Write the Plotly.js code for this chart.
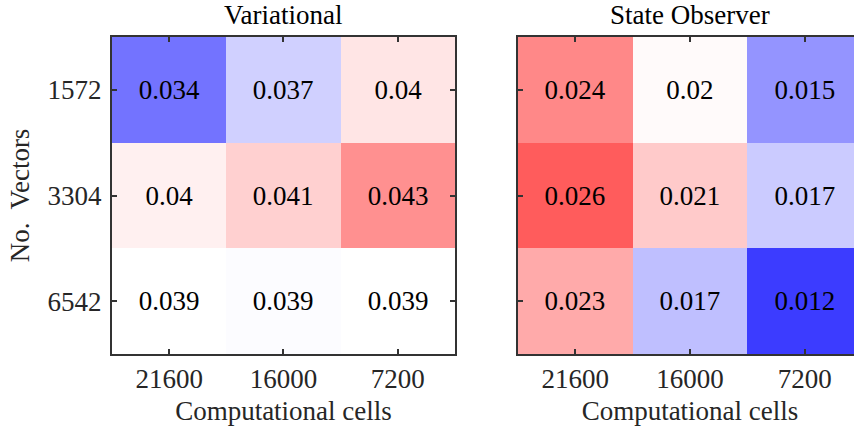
<!DOCTYPE html>
<html>
<head>
<meta charset="utf-8">
<script src="https://cdn.plot.ly/plotly-3.0.1.min.js"></script>
<style>
html,body{margin:0;padding:0;overflow:hidden;background:#fff;}
#chart{width:862px;height:432px;}
</style>
</head>
<body>
<div id="chart"></div>
<script>
// Categories / tick labels
const cells = ["21600", "16000", "7200"];        // Computational cells (x)
const vectors = ["1572", "3304", "6542"];        // No. Vectors (y), top to bottom

// Error values, rows = vectors, cols = cells
const variational = [
  [0.03416, 0.03744, 0.04002],
  [0.03963, 0.04076, 0.04302],
  [0.03910, 0.03900, 0.03910]
];
const stateObserver = [
  [0.02398, 0.01960, 0.01528],
  [0.02566, 0.02144, 0.01740],
  [0.02266, 0.01694, 0.01190]
];
const panelTitles = ["Variational", "State Observer"];
const xTitle = "Computational cells";
const yTitle = "No.  Vectors";

const FONT = "'Liberation Serif', 'Times New Roman', 'DejaVu Serif', serif";
const FS = 27;
const bwr = [[0, "rgb(0,0,255)"], [0.5, "rgb(255,255,255)"], [1, "rgb(255,0,0)"]];

function hm(z, xa, ya, zmin, zmax) {
  return {
    type: "heatmap", x: cells, y: vectors, z: z,
    xaxis: xa, yaxis: ya,
    colorscale: bwr, zmin: zmin, zmax: zmax, showscale: false,
    texttemplate: "%{z:.2~g}",
    textfont: {family: FONT, size: FS, color: "#000"},
    hoverinfo: "skip", xgap: 0, ygap: 0
  };
}

const traces = [
  hm(variational, "x", "y", 0.0301, 0.0481),
  hm(stateObserver, "x2", "y2", 0.0096, 0.0292)
];

const axBase = {
  type: "category", showline: true, mirror: "ticks", linecolor: "#333", linewidth: 2,
  ticks: "inside", ticklen: 5, tickwidth: 2, tickcolor: "#333",
  showgrid: false, zeroline: false, fixedrange: true,
  tickfont: {family: FONT, size: FS, color: "#262626"}
};

const layout = {
  width: 862, height: 432,
  margin: {l: 112, r: 0, t: 37, b: 78},
  paper_bgcolor: "#fff", plot_bgcolor: "#fff",
  font: {family: FONT, size: FS, color: "#262626"},
  showlegend: false,
  xaxis: Object.assign({}, axBase, {domain: [0, 0.4573], anchor: "y", ticklabelstandoff: 0,
    title: {text: xTitle, font: {family: FONT, size: FS, color: "#262626"}, standoff: 8}}),
  yaxis: Object.assign({}, axBase, {domain: [0, 1], anchor: "x", autorange: "reversed", ticklabelstandoff: 3,
    title: {text: yTitle, font: {family: FONT, size: FS, color: "#262626"}, standoff: 10}}),
  xaxis2: Object.assign({}, axBase, {domain: [0.5413, 1], anchor: "y2", ticklabelstandoff: 0,
    title: {text: xTitle, font: {family: FONT, size: FS, color: "#262626"}, standoff: 8}}),
  yaxis2: Object.assign({}, axBase, {domain: [0, 1], anchor: "x2", autorange: "reversed", showticklabels: false}),
  annotations: [
    {text: panelTitles[0], xref: "x domain", yref: "y domain", x: 0.5, y: 1, yshift: 5,
     xanchor: "center", yanchor: "bottom", showarrow: false,
     font: {family: FONT, size: FS, color: "#000"}},
    {text: panelTitles[1], xref: "x2 domain", yref: "y2 domain", x: 0.5, y: 1, yshift: 5,
     xanchor: "center", yanchor: "bottom", showarrow: false,
     font: {family: FONT, size: FS, color: "#000"}}
  ]
};

Plotly.newPlot("chart", traces, layout, {displayModeBar: false, staticPlot: true});
</script>
</body>
</html>
